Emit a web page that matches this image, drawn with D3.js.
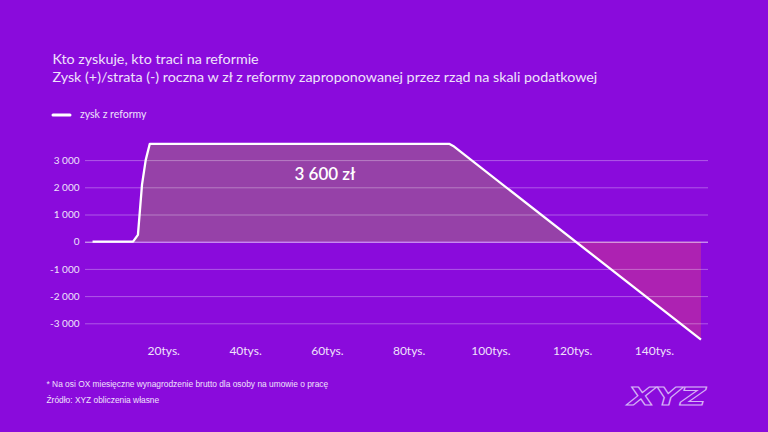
<!DOCTYPE html>
<html><head><meta charset="utf-8">
<script src="https://cdn.jsdelivr.net/npm/d3@7"></script>
<style>
html,body{margin:0;padding:0;background:#8a0bdc;}
svg{display:block;}
</style></head>
<body>
<script>
const title1 = "Kto zyskuje, kto traci na reformie";
const title2 = "Zysk (+)/strata (-) roczna w zł z reformy zaproponowanej przez rząd na skali podatkowej";
const legendLabel = "zysk z reformy";
const annotation = "3 600 zł";
const footnote = "* Na osi OX miesięczne wynagrodzenie brutto dla osoby na umowie o pracę";
const source = "Źródło: XYZ obliczenia własne";

// salary in thousands (monthly gross), gain in zł per year
const salary = [2.7, 12.6, 13.8, 14.8, 15.7, 16.7, 89.9, 90.9, 151.5];
const gain   = [0,   0,    250,  2100, 3000, 3600, 3600, 3520, -3600];

const yTicks = [-3000, -2000, -1000, 0, 1000, 2000, 3000];
const yTickLabels = ["-3 000", "-2 000", "-1 000", "0", "1 000", "2 000", "3 000"];
const xTicks = [20, 40, 60, 80, 100, 120, 140];
const xTickLabels = ["20tys.", "40tys.", "60tys.", "80tys.", "100tys.", "120tys.", "140tys."];

const data = salary.map((s, i) => ({s, v: gain[i]}));

const W = 768, H = 432;
const svg = d3.select("body").append("svg").attr("width", W).attr("height", H);
svg.append("rect").attr("width", W).attr("height", H).attr("fill", "#8a0bdc");

const x = d3.scaleLinear().domain([0, 150]).range([81.5, 694.85]);
const y = d3.scaleLinear().domain([-4000, 4000]).range([350.5, 132.9]);
const gridX0 = 85, gridX1 = 708;

const txt = "#efe2fb";

// titles
svg.append("text").attr("x", 52.5).attr("y", 64.3).text(title1)
  .attr("font-family", "Lato").attr("font-size", 14.3).attr("fill", txt);
svg.append("text").attr("x", 52.5).attr("y", 82.3).text(title2)
  .attr("font-family", "Lato").attr("font-size", 14.3).attr("fill", txt);

// legend
svg.append("line").attr("x1", 53).attr("x2", 70).attr("y1", 115).attr("y2", 115)
  .attr("stroke", "#fff").attr("stroke-width", 3).attr("stroke-linecap", "round");
svg.append("text").attr("x", 80).attr("y", 118).text(legendLabel)
  .attr("font-family", "Lato").attr("font-size", 10.5).attr("fill", txt);

// areas
const area = d3.area().x(d => x(d.s)).y0(y(0)).y1(d => y(d.v));
const defs = svg.append("defs");
defs.append("clipPath").attr("id", "pos").append("rect")
  .attr("x", 0).attr("y", 0).attr("width", W).attr("height", y(0));
defs.append("clipPath").attr("id", "neg").append("rect")
  .attr("x", 0).attr("y", y(0)).attr("width", W).attr("height", H - y(0));
svg.append("path").datum(data).attr("d", area).attr("fill", "#9641a8").attr("clip-path", "url(#pos)");
svg.append("path").datum(data).attr("d", area).attr("fill", "#ad22b2").attr("clip-path", "url(#neg)");

// grid + y axis
const yAxis = d3.axisLeft(y).tickValues(yTicks).tickSize(0).tickPadding(0)
  .tickFormat((d, i) => yTickLabels[i]);
const gy = svg.append("g").attr("transform", `translate(${gridX0 - 5.5},0)`).call(yAxis);
gy.select(".domain").remove();
gy.selectAll("text").attr("font-family", "Lato").attr("font-size", 10).attr("fill", txt);

svg.append("g").selectAll("line").data(yTicks).join("line")
  .attr("x1", gridX0).attr("x2", gridX1)
  .attr("y1", d => y(d) + 0.5).attr("y2", d => y(d) + 0.5)
  .attr("stroke", d => d === 0 ? "rgba(255,255,255,0.75)" : "rgba(255,255,255,0.32)")
  .attr("stroke-width", 1);

// x axis
const xAxis = d3.axisBottom(x).tickValues(xTicks).tickSize(0)
  .tickFormat((d, i) => xTickLabels[i]);
const gx = svg.append("g").attr("transform", `translate(0,343)`).call(xAxis);
gx.select(".domain").remove();
gx.selectAll("text").attr("font-family", "Lato").attr("font-size", 12).attr("fill", txt);

// line
const line = d3.line().x(d => x(d.s)).y(d => y(d.v)).curve(d3.curveLinear);
svg.append("path").datum(data).attr("d", line).attr("fill", "none")
  .attr("stroke", "#fff").attr("stroke-width", 2.3).attr("stroke-linejoin", "round");

// annotation
svg.append("text").attr("x", 325).attr("y", 180).attr("text-anchor", "middle").text(annotation)
  .attr("font-family", "Lato").attr("font-weight", 600).attr("font-size", 17).attr("fill", "#fff");

// footer
svg.append("text").attr("x", 46.5).attr("y", 387).text(footnote)
  .attr("font-family", "Liberation Sans").attr("font-size", 8.4).attr("fill", txt);
svg.append("text").attr("x", 46.5).attr("y", 403).text(source)
  .attr("font-family", "Liberation Sans").attr("font-size", 8.4).attr("fill", txt);

// logo
svg.append("text").attr("x", 628).attr("y", 405).text("XYZ")
  .attr("font-family", "DejaVu Sans").attr("font-weight", "bold").attr("font-style", "italic")
  .attr("font-size", 25).attr("textLength", 78).attr("lengthAdjust", "spacingAndGlyphs")
  .attr("fill", "none").attr("stroke", "#d7b4f7").attr("stroke-width", 1);
</script>
</body></html>
